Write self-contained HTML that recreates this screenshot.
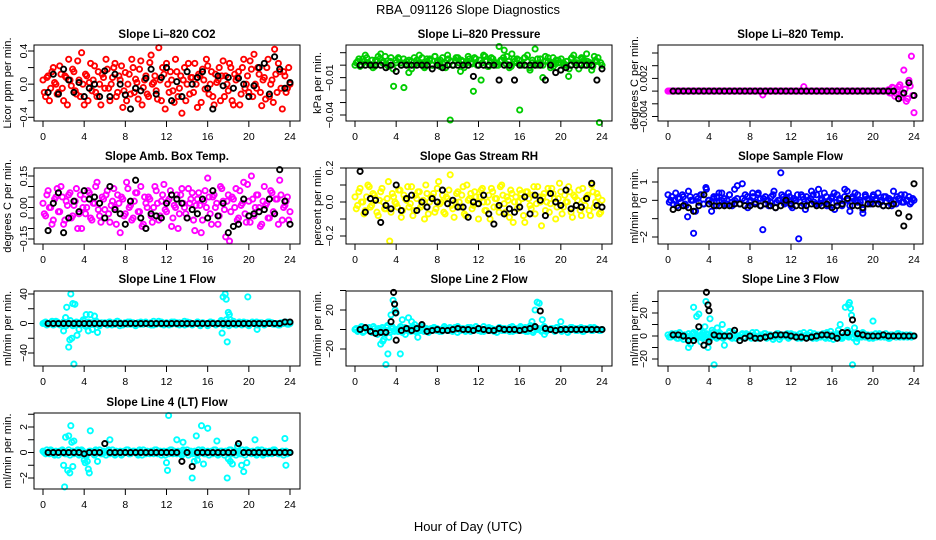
<!DOCTYPE html>
<html><head><meta charset="utf-8">
<style>
html,body{margin:0;padding:0;background:#fff;}
svg{display:block;font-family:"Liberation Sans",Arial,sans-serif;}
</style></head>
<body>
<svg id="chart" width="936" height="540" viewBox="0 0 936 540">
<text x="468" y="14" text-anchor="middle" font-size="13">RBA_091126  Slope Diagnostics</text>
<text x="468" y="531" text-anchor="middle" font-size="13">Hour of Day (UTC)</text>
</svg>
<script>
// ---------- data (units noted per panel) ----------
// CO2, hundredths of ppm/min
const co2A=[5,-15,10,-5,20,0,-10,12,-20,8,30,-2,15,-12,5,38,-25,10,2,-8,22,-15,0,12,-5,18,-20,8,25,-10,5,-28,14,0,-12,20,6,-18,28,-4,10,-15,35,2,-8,44,-20,12,25,-10,5,-22,15,-5,-35,20,0,-12,8,25,-28,10,18,-6,22,0,-15,12,5,-20,28,10,-8,20,-25,5,15,-12,30,0,-10,18,36,-5,12,-26,8,20,-15,5,42,-10,15,-30,10,-5,0];
const co2B=[-10,8,-20,15,2,-12,22,-5,10,-25,5,18,-8,28,-15,0,12,-20,25,5,-10,15,-25,8,30,-5,0,20,-15,10,22,-8,-20,12,30,-10,2,18,-25,5,-12,26,0,10,-18,5,20,-30,0,15,-8,30,-15,10,5,-20,25,8,-10,0,12,-22,5,30,-12,15,-25,2,20,10,-15,0,25,-20,12,8,-25,20,-5,10,28,-15,0,20,-10,5,-18,30,0,-22,12,25,-5,15,-10,20];
const co2K=[-10,12,-12,18,5,-10,2,-15,-5,0,-15,16,-15,12,0,-13,-30,-5,-8,7,18,-12,8,20,-20,3,-15,15,0,8,15,-5,-30,10,-2,8,-5,7,0,-15,-2,20,25,-12,33,18,-5,2];
// Pressure, thousandths of kPa/min
const prA=[0,3,-1,5,8,2,0,-2,4,7,9,3,1,-1,6,-17,2,5,0,-18,3,4,-3,6,2,8,1,-2,5,4,0,7,3,-1,6,2,8,-44,0,4,6,-5,3,1,7,2,-21,5,0,-12,8,3,-1,6,2,0,15,4,12,7,-2,9,3,5,-36,1,6,8,-4,2,13,0,5,-10,7,3,-2,6,1,4,-4,2,0,-9,5,8,2,-3,6,4,9,1,-4,7,3,-46,0];
const prB=[2,5,0,3,6,1,4,-1,3,5,2,7,0,3,-3,4,6,2,5,1,-6,3,0,4,2,6,-1,3,5,0,7,2,4,1,-2,5,3,0,6,2,4,-2,3,5,1,6,0,4,2,7,-1,3,5,2,0,4,6,1,3,-1,5,2,4,0,6,3,-2,4,1,5,2,0,3,6,1,-1,4,2,5,0,3,-3,6,2,4,1,5,0,3,2,-1,4,6,2];
const prK=[0,0,0,0,0,-2,0,-5,0,0,0,0,0,0,-3,0,-2,0,0,0,0,0,-9,0,0,0,0,-12,0,0,-12,0,0,0,0,0,-12,0,-6,-4,-2,0,0,0,0,0,-12,-3];
// Li-820 temperature, thousandths of degC/min
const ltA=[0,0,0,0,0,0,0,0,0,0,0,0,0,0,0,0,0,0,0,0,0,0,0,0,0,0,0,0,0,0,0,0,0,0,0,0,0,-0.6,0,0,0,0,0,0,0,0,0,0,0,0,0,0,0,0.7,0,0,0,0,0,0,0,0,0,0,0,0,0,0,0,0,0,0,0,0,0,0,0,0,0,0,0,0,0,0,0,0,0.2,-0.3,0.5,-0.4,0.7,-1.0,3.3,-1.6,1.7,5.5,-3.4];
const ltB=[0,0,0,0,0,0,0,0,0,0,0,0,0,0,0,0,0,0,0,0,0,0,0,0,0,0,0,0,0,0,0,0,0,0,0,0,0,0,0,0,0,0,0,0,0,0,0,0,0,0,0,0,0,0,0,0,0,0,0,0,0,0,0,0,0,0,0,0,0,0,0,0,0,0,0,0,0,0,0,0,0,0,0,0,0,0,-0.3,0.6,-0.8,0.2,1.0,-0.5,0.3,-1.2,0.8,-0.7];
const ltK=[0,0,0,0,0,0,0,0,0,0,0,0,0,0,0,0,0,0,0,0,0,0,0,0,0,0,0,0,0,0,0,0,0,0,0,0,0,0,0,0,0,0,0,0,-1.2,-0.3,1.3,-0.7];
// Ambient box temperature, hundredths of degC/min
const abA=[2,-4,8,0,-6,5,-2,10,-8,3,6,-5,1,9,-3,-10,4,0,7,-6,2,12,-4,5,-1,8,-7,3,0,6,-12,4,-3,9,1,-5,7,-2,10,-8,2,5,-4,0,8,-6,3,11,-2,4,-9,1,6,-3,9,0,-5,2,7,-11,4,1,-6,8,14,-3,5,0,-8,10,3,-14,6,-2,4,9,-5,1,12,-7,3,15,-4,6,0,-8,10,2,-5,7,-3,4,13,-6,1,5,-2];
const abB=[-3,6,0,-8,4,9,-2,5,-6,1,7,-4,3,-10,6,0,-3,8,-5,2,10,-1,-7,4,6,-3,1,9,-8,2,5,-4,12,0,-6,3,7,-2,-9,5,0,4,-7,10,2,-4,6,-1,3,8,-5,0,-10,6,2,-3,9,4,-6,1,7,-12,3,0,5,-8,6,2,-4,9,-1,3,-16,5,0,-6,8,2,-3,11,-7,4,0,6,-9,3,1,-5,8,-2,4,-8,6,0,3,-6];
const abK=[-11,2,7,-12,-5,3,-2,8,4,5,2,-5,10,-1,-3,-8,3,13,-5,-10,-3,-4,-5,2,6,4,2,-5,-1,-3,4,-5,8,-4,2,-12,-9,-8,4,-4,-3,-2,-1,4,-3,18,3,-8];
// Gas stream RH, hundredths of percent/min
const rhA=[3,-2,8,0,-5,10,-3,5,2,-8,6,0,-4,12,-6,3,-1,7,-9,4,1,-3,9,-5,2,6,-2,-10,5,0,3,-6,8,-1,4,-7,2,16,-4,0,6,-3,9,-8,1,5,-2,3,-10,7,0,-5,4,8,-3,2,-6,10,-1,3,-9,5,0,-4,7,2,-12,6,-2,4,-7,9,0,3,-5,8,-1,5,-10,2,6,-3,0,9,-6,4,-2,7,-8,1,3,-5,10,-3,5,-7,1];
const rhB=[-4,6,0,-7,3,9,-2,4,-6,1,8,-4,2,-23,5,0,-3,7,-5,2,9,-1,-8,4,6,-3,1,10,-7,3,5,-4,12,0,-6,3,7,-2,-9,5,0,4,-7,10,2,-4,6,-1,3,8,-5,0,-10,6,2,-3,9,4,-6,1,7,-12,3,0,5,-8,6,2,-4,9,-1,3,-14,5,0,-6,8,2,-3,11,-7,4,0,6,-9,3,1,-5,8,-2,4,-8,6,0,3,-6];
const rhK=[18,-6,2,1,-12,-2,-4,10,-5,2,4,-5,0,-3,2,0,7,-1,1,-3,-3,-9,0,-1,4,-7,-13,-2,-7,-4,-6,-3,3,-7,4,1,-8,5,0,-2,7,-4,-2,-3,2,11,-2,-3];
// Sample flow, tenths of ml/min per min
const sfA=[3,0,-2,4,1,-1,2,-3,5,0,-18,2,-1,3,-2,6,0,-6,1,2,-1,4,-2,0,3,-3,6,1,-2,9,0,2,-1,4,-2,3,1,-16,2,0,-1,3,-4,0,15,2,-1,4,-3,1,0,-21,3,-2,2,0,5,-1,3,-2,1,4,-3,0,2,-5,3,1,-2,6,0,-3,2,4,-1,0,-5,3,1,-2,2,0,4,-1,-3,2,1,0,5,-2,1,3,-1,0,2,-1,0];
const sfB=[-1,2,0,-3,1,3,-2,-9,2,0,-6,1,3,-2,7,0,-1,2,-3,4,0,1,-2,3,-1,0,8,-2,1,3,-4,0,2,-1,4,-3,1,0,-3,2,5,-1,0,3,-2,1,2,-4,0,3,-1,2,-5,0,1,3,-2,6,0,-1,2,-3,1,4,-1,0,-3,2,5,-6,1,0,3,-1,-7,2,0,-1,3,1,-2,0,2,-1,1,-3,0,2,1,-1,3,0,-2,1];
const sfK=[-5,-4,-3,-4,-6,-3,3,-2,-3,-3,-3,-3,-2,-2,-3,-3,-2,-3,-2,-3,-4,-3,0,-2,-3,-3,-3,-2,-3,-3,-2,-4,-3,-2,1,-3,-3,-4,-2,-2,-2,-3,-3,-2,-7,-14,-9,9];
// Line flows, ml/min per min (band + spikes)
const l1A=[0,2,-1,1,-2,3,0,-1,2,-3,1,0,-2,2,1,-1,3,-2,0,1,-1,2,-3,0,1,-2,2,0,-1,3,1,-2,0,2,-1,1,-3,0,2,-1,1,0,-2,3,-1,0,2,-2,1,0,-1,2,1,-2,0,3,-1,1,-2,0,2,-1,1,0,-3,2,1,-1,0,2,-2,1,0,-1,3,-2,1,0,2,-1,-3,1,0,2,-1,1,-2,0,2,1,-1,0,-2,1,2,-1,0];
const l1B=[1,-2,0,3,-1,2,-2,0,1,-1,4,-3,1,0,-2,5,-4,2,-1,0,3,-2,1,0,-1,2,-2,1,3,-3,0,1,-1,2,0,-2,1,-1,0,2,-1,1,-2,0,3,-1,0,1,-2,2,0,-1,1,0,-2,2,1,-1,0,2,-3,1,0,-1,2,1,-2,0,4,-2,5,-3,1,-1,0,2,-2,0,1,-1,2,0,-2,1,0,-1,2,1,-1,0,-2,1,0,2,-1];
const l1SpikeX=[2.3,2.5,2.6,2.7,2.8,2.9,3.0,3.1,3.3,3.5,4.2,4.4,4.6,4.8,5.0,5.3,2.0,2.2,17.5,17.7,17.8,17.9,18.0,18.1,18.2,17.4,19.9,20.8];
const l1SpikeY=[22,-32,-22,40,-20,27,-55,26,-16,-8,12,-10,12,-8,10,-12,-10,8,36,40,33,-25,15,12,5,-13,36,-8];
const l1K=[0,0,0,0,0,0,0,0,0,0,0,0,0,0,0,0,0,0,0,0,0,0,0,0,0,0,0,0,0,0,0,0,0,0,0,0,0,0,0,0,0,0,0,0,0,0,2,2];
const l1KSpikeX=[],l1KSpikeY=[];
const l2A=[0,-2,1,-3,2,0,-1,3,-2,1,0,-4,2,-1,3,-2,0,1,-3,2,-1,0,3,-2,1,-1,2,0,-3,1,2,-1,0,-2,3,1,-1,0,2,-3,1,0,-1,2,-2,1,3,-1,0,-2,1,2,-1,0,-3,2,1,-1,0,2,-2,1,-1,3,0,-2,1,2,-1,0,1,-2,3,-1,0,1,-2,2,0,-1,1,-3,2,0,-1,1,2,-2,0,1,-1,2,0,-1,0];
const l2B=[1,-1,3,-2,0,2,-3,1,0,-1,2,-2,4,-3,1,0,-2,3,-1,0,1,-2,2,0,-1,3,-2,1,0,-1,2,1,-2,0,1,-1,2,-2,0,3,-1,1,-2,0,2,-1,0,1,-2,3,0,-1,1,-2,0,2,-1,1,0,-2,3,-1,0,1,-1,2,-2,4,-3,1,0,-1,2,-2,0,1,-1,2,0,-2,1,0,-1,2,1,-1,0,-2,1,0,2,-1,1,0,-1];
const l2SpikeX=[2.5,2.8,3.0,3.2,3.3,3.5,3.6,3.7,3.9,4.0,4.2,4.4,4.6,4.9,5.2,5.5,5.8,6.1,17.2,17.5,17.7,17.9,18.2,18.4,20.0,2.2,2.7];
const l2SpikeY=[-15,-10,-36,-25,-8,15,3,30,20,17,-2,-25,10,-5,12,8,5,-8,8,20,28,27,10,-5,8,-5,-12];
const l2K=[0,2,-2,-4,-3,-3,8,-11,-1,1,-1,1,5,-2,-1,0,-1,-1,0,1,0,0,-1,1,0,-1,-1,1,0,0,0,-1,0,1,3,19,1,0,-1,0,0,0,0,0,0,0,0,0];
const l2KSpikeX=[3.75,3.85,3.95],l2KSpikeY=[38,26,17];
const l3A=[1,-1,0,2,-2,1,-3,0,2,-1,3,-2,0,1,-1,2,-3,1,0,-2,2,1,-1,0,3,-2,1,0,-1,2,-2,1,0,3,-1,-2,1,0,2,-1,1,-3,0,2,-1,1,0,-2,2,1,-1,0,-2,3,1,-1,0,2,-2,1,0,-1,3,-2,1,0,2,-1,-2,1,0,2,-1,1,-2,0,3,-1,1,0,-2,2,1,-1,0,2,-2,1,0,-1,2,0,-1,1,0,-1,0];
const l3B=[-1,2,0,-2,3,-1,1,0,-3,2,1,-1,4,-2,0,1,-2,3,0,-1,2,-2,1,0,-1,3,-2,0,1,-1,2,0,-2,1,3,-1,0,2,-2,1,0,-1,2,-3,1,0,2,-1,0,1,-2,2,0,-1,1,3,-2,0,1,-1,2,-2,0,4,-3,1,5,-2,0,1,-1,2,-2,0,1,-1,2,0,-2,1,0,-1,2,1,-1,0,-2,1,0,2,-1,1,0,-1,1,0];
const l3SpikeX=[2.0,2.2,2.5,2.8,3.0,3.2,3.4,3.6,3.7,3.9,4.1,4.3,4.5,4.8,5.0,5.3,5.5,6.0,16.8,17.3,17.5,17.6,17.7,17.8,17.9,18.0,18.2,20.0,18.4];
const l3SpikeY=[-10,-7,25,17,19,-5,3,8,30,-10,15,5,-25,7,3,10,-8,4,10,25,5,27,29,24,18,-25,7,13,-5];
const l3K=[1,1,0,-4,-4,8,-8,-5,1,0,0,0,5,-4,-2,0,-2,-2,-1,0,1,1,1,0,-1,-1,-2,-1,0,1,1,0,-2,3,3,14,2,1,0,0,0,1,0,0,0,0,0,0];
const l3KSpikeX=[3.75,3.9,4.0],l3KSpikeY=[38,27,22];
// Line 4, tenths of ml/min per min
const l4A=[1,-1,0,2,-1,1,-2,0,1,-1,2,0,-1,1,-2,2,0,-1,1,0,-2,1,2,-1,0,1,-1,2,-2,0,1,-1,0,2,-1,1,0,-2,1,2,-1,0,1,-1,2,0,-2,1,0,-1,2,1,-1,0,-2,1,2,0,-1,1,-2,0,2,-1,1,0,-1,2,-2,1,0,1,-1,2,0,-2,1,-1,0,2,1,-1,0,-2,1,2,-1,0,1,-1,2,0,-1,1,0,-1,0];
const l4B=[0,2,-1,1,-2,0,1,2,-1,0,-2,1,0,2,-1,1,-2,0,1,-1,2,0,-1,1,-2,2,0,-1,1,0,-2,1,2,-1,0,1,-1,2,-2,0,1,-1,0,2,-1,1,0,-2,1,2,-1,0,1,-1,2,0,-2,1,0,-1,2,1,-1,0,-2,1,2,0,-1,1,-2,0,2,-1,1,0,-1,2,-2,1,0,1,-1,2,0,-2,1,-1,0,2,1,-1,0,-2,1,0];
const l4SpikeX=[2.0,2.1,2.2,2.4,2.5,2.6,2.7,2.8,2.9,3.0,4.0,4.1,4.2,4.3,4.4,4.5,4.6,5.3,6.5,12.0,12.1,12.2,13.0,13.6,14.5,14.7,14.9,15.0,15.4,15.6,16.0,16.9,17.9,18.0,18.2,18.4,18.9,19.3,19.5,19.8,20.6,23.5,23.6];
const l4SpikeY=[-10,-27,12,-14,13,-16,21,8,-11,9,-6,-8,-3,-7,-13,-16,17,-7,10,-8,-14,29,10,8,-20,-7,13,-6,21,-9,19,9,-20,-5,-7,-9,5,-10,-15,-8,10,11,-10];
const l4K=[0,0,0,0,0,0,0,-1,0,0,0,7,0,0,0,0,0,0,0,0,0,0,0,0,0,0,-7,0,-11,0,0,0,0,0,0,0,0,7,0,0,0,0,0,0,0,0,0,0];
const l4KSpikeX=[],l4KSpikeY=[];
const xTickValues=[0,4,8,12,16,20,24];

// ---------- layout ----------
const cols=[{bl:34,br:300,x0:43,x24:290,yl:8,tl:27},{bl:346,br:612,x0:355,x24:602,yl:318,tl:333},{bl:658,br:923,x0:668,x24:914,yl:635,tl:647}];
const rows=[{bt:45,bb:121,tt:38},{bt:168,bb:244,tt:160},{bt:291,bb:366,tt:283},{bt:413,bb:489,tt:406}];
const panels=[
 {name:'co2',title:'Slope Li\u2013820 CO2',ylab:'Licor ppm per min.',c:0,r:0,v1:40,p1:51,v2:-40,p2:117.3,ticks:[40,20,0,-20,-40],labels:{'40':'0.4','0':'0.0','-40':'-0.4'},col:'#ff0000',A:co2A,B:co2B,K:co2K},
 {name:'pressure',title:'Slope Li\u2013820 Pressure',ylab:'kPa per min.',c:1,r:0,v1:10,p1:52.7,v2:-40,p2:115,ticks:[10,0,-10,-20,-30,-40],labels:{'-10':'-0.01','-40':'-0.04'},col:'#00cd00',A:prA,B:prB,K:prK},
 {name:'li820-temp',title:'Slope Li\u2013820 Temp.',ylab:'degrees C per min.',c:2,r:0,v1:6,p1:53,v2:-4,p2:116.5,ticks:[6,4,2,0,-2,-4],labels:{'2':'0.002','-4':'-0.004'},col:'#ff00ff',A:ltA,B:ltB,K:ltK},
 {name:'amb-box-temp',title:'Slope Amb. Box Temp.',ylab:'degrees C per min.',c:0,r:1,v1:15,p1:176,v2:-15,p2:239,ticks:[15,10,5,0,-5,-10,-15],labels:{'15':'0.15','0':'0.00','-15':'-0.15'},col:'#ff00ff',A:abA,B:abB,K:abK},
 {name:'gas-stream-rh',title:'Slope Gas Stream RH',ylab:'percent per min.',c:1,r:1,v1:20,p1:168,v2:-20,p2:236,ticks:[20,10,0,-10,-20],labels:{'20':'0.2','0':'0.0','-20':'-0.2'},col:'#ffff00',A:rhA,B:rhB,K:rhK},
 {name:'sample-flow',title:'Slope Sample Flow',ylab:'ml/min per min.',c:2,r:1,v1:10,p1:182,v2:-20,p2:237,ticks:[10,0,-10,-20],labels:{'10':'1','0':'0','-20':'-2'},col:'#0000ff',A:sfA,B:sfB,K:sfK},
 {name:'line1-flow',title:'Slope Line 1 Flow',ylab:'ml/min per min.',c:0,r:2,v1:40,p1:294,v2:-40,p2:353,ticks:[40,20,0,-20,-40],labels:{'40':'40','0':'0','-40':'-40'},col:'#00ffff',A:l1A,B:l1B,K:l1K,SX:l1SpikeX,SY:l1SpikeY,KX:l1KSpikeX,KY:l1KSpikeY},
 {name:'line2-flow',title:'Slope Line 2 Flow',ylab:'ml/min per min.',c:1,r:2,v1:20,p1:310,v2:-20,p2:349,ticks:[40,20,0,-20],labels:{'20':'20','-20':'-20'},col:'#00ffff',A:l2A,B:l2B,K:l2K,SX:l2SpikeX,SY:l2SpikeY,KX:l2KSpikeX,KY:l2KSpikeY},
 {name:'line3-flow',title:'Slope Line 3 Flow',ylab:'ml/min per min.',c:2,r:2,v1:20,p1:313,v2:-20,p2:359,ticks:[30,20,10,0,-10,-20],labels:{'20':'20','0':'0','-20':'-20'},col:'#00ffff',A:l3A,B:l3B,K:l3K,SX:l3SpikeX,SY:l3SpikeY,KX:l3KSpikeX,KY:l3KSpikeY},
 {name:'line4-flow',title:'Slope Line 4 (LT) Flow',ylab:'ml/min per min.',c:0,r:3,v1:20,p1:427,v2:-20,p2:478,ticks:[30,20,10,0,-10,-20],labels:{'20':'2','0':'0','-20':'-2'},col:'#00ffff',A:l4A,B:l4B,K:l4K,SX:l4SpikeX,SY:l4SpikeY,KX:l4KSpikeX,KY:l4KSpikeY}
];
const NS='http://www.w3.org/2000/svg';
const svg=document.getElementById('chart');
function mk(tag,attrs,parent){const e=document.createElementNS(NS,tag);for(const k in attrs)e.setAttribute(k,attrs[k]);(parent||svg).appendChild(e);return e;}

panels.forEach(p=>{
  const C=cols[p.c],R=rows[p.r];
  const g=mk('g',{});
  
  
  const xs=h=>C.x0+(C.x24-C.x0)*h/24;
  const ys=v=>p.p1+(v-p.v1)*(p.p2-p.p1)/(p.v2-p.v1);
  const t=mk('text',{x:(C.bl+C.br)/2,y:R.tt,'text-anchor':'middle','font-size':'11.5','font-weight':'bold'},g);
  t.textContent=p.title;
  
  
  const yc=(R.bt+R.bb)/2;
  const yl=mk('text',{x:C.yl,y:yc,'text-anchor':'middle','font-size':'11',transform:`rotate(-90 ${C.yl} ${yc})`,'dominant-baseline':'central'},g);
  yl.textContent=p.ylab;
  
  
  const pts=mk('g',{fill:'none','stroke-width':'1.9'},g);
  
  
  function dot(h,v,col,nm){
    const y=ys(v);
    if(y<R.bt-2||y>R.bb+2)return;
    const c=mk('circle',{cx:xs(h).toFixed(1),cy:y.toFixed(1),r:'2.6',stroke:col},pts);
    
    
  }
  p.A.forEach((v,i)=>dot(i*24/(p.A.length-1),v,p.col,p.name+'-point'));
  p.B.forEach((v,i)=>dot(0.125+i*24/(p.B.length),v,p.col,p.name+'-point'));
  if(p.SX)p.SX.forEach((h,i)=>dot(h,p.SY[i],p.col,p.name+'-spike-point'));
  p.K.forEach((v,i)=>dot(0.5+i*0.5,v,'#000',p.name+'-reference-point'));
  if(p.KX)p.KX.forEach((h,i)=>dot(h,p.KY[i],'#000',p.name+'-reference-spike'));
  const b=mk('rect',{x:C.bl,y:R.bt,width:C.br-C.bl,height:R.bb-R.bt,fill:'none',stroke:'#000','stroke-width':'1'},g);
  
  
  xTickValues.forEach(h=>{
    const x=xs(h);
    mk('line',{x1:x,x2:x,y1:R.bb,y2:R.bb+6,stroke:'#000'},g);
    const tl=mk('text',{x:x,y:R.bb+19,'text-anchor':'middle','font-size':'10.5'},g);
    tl.textContent=h;
    
    
  });
  p.ticks.forEach(v=>{
    const y=ys(v);
    mk('line',{x1:C.bl-6,x2:C.bl,y1:y,y2:y,stroke:'#000'},g);
    const lab=p.labels[String(v)];
    if(lab!==undefined){
      const tl=mk('text',{x:C.tl,y:y,'text-anchor':'middle','font-size':'10.5',transform:`rotate(-90 ${C.tl} ${y})`},g);
      tl.textContent=lab.replace('-','\u2212');
      
      
    }
  });
});
</script>
</body></html>
